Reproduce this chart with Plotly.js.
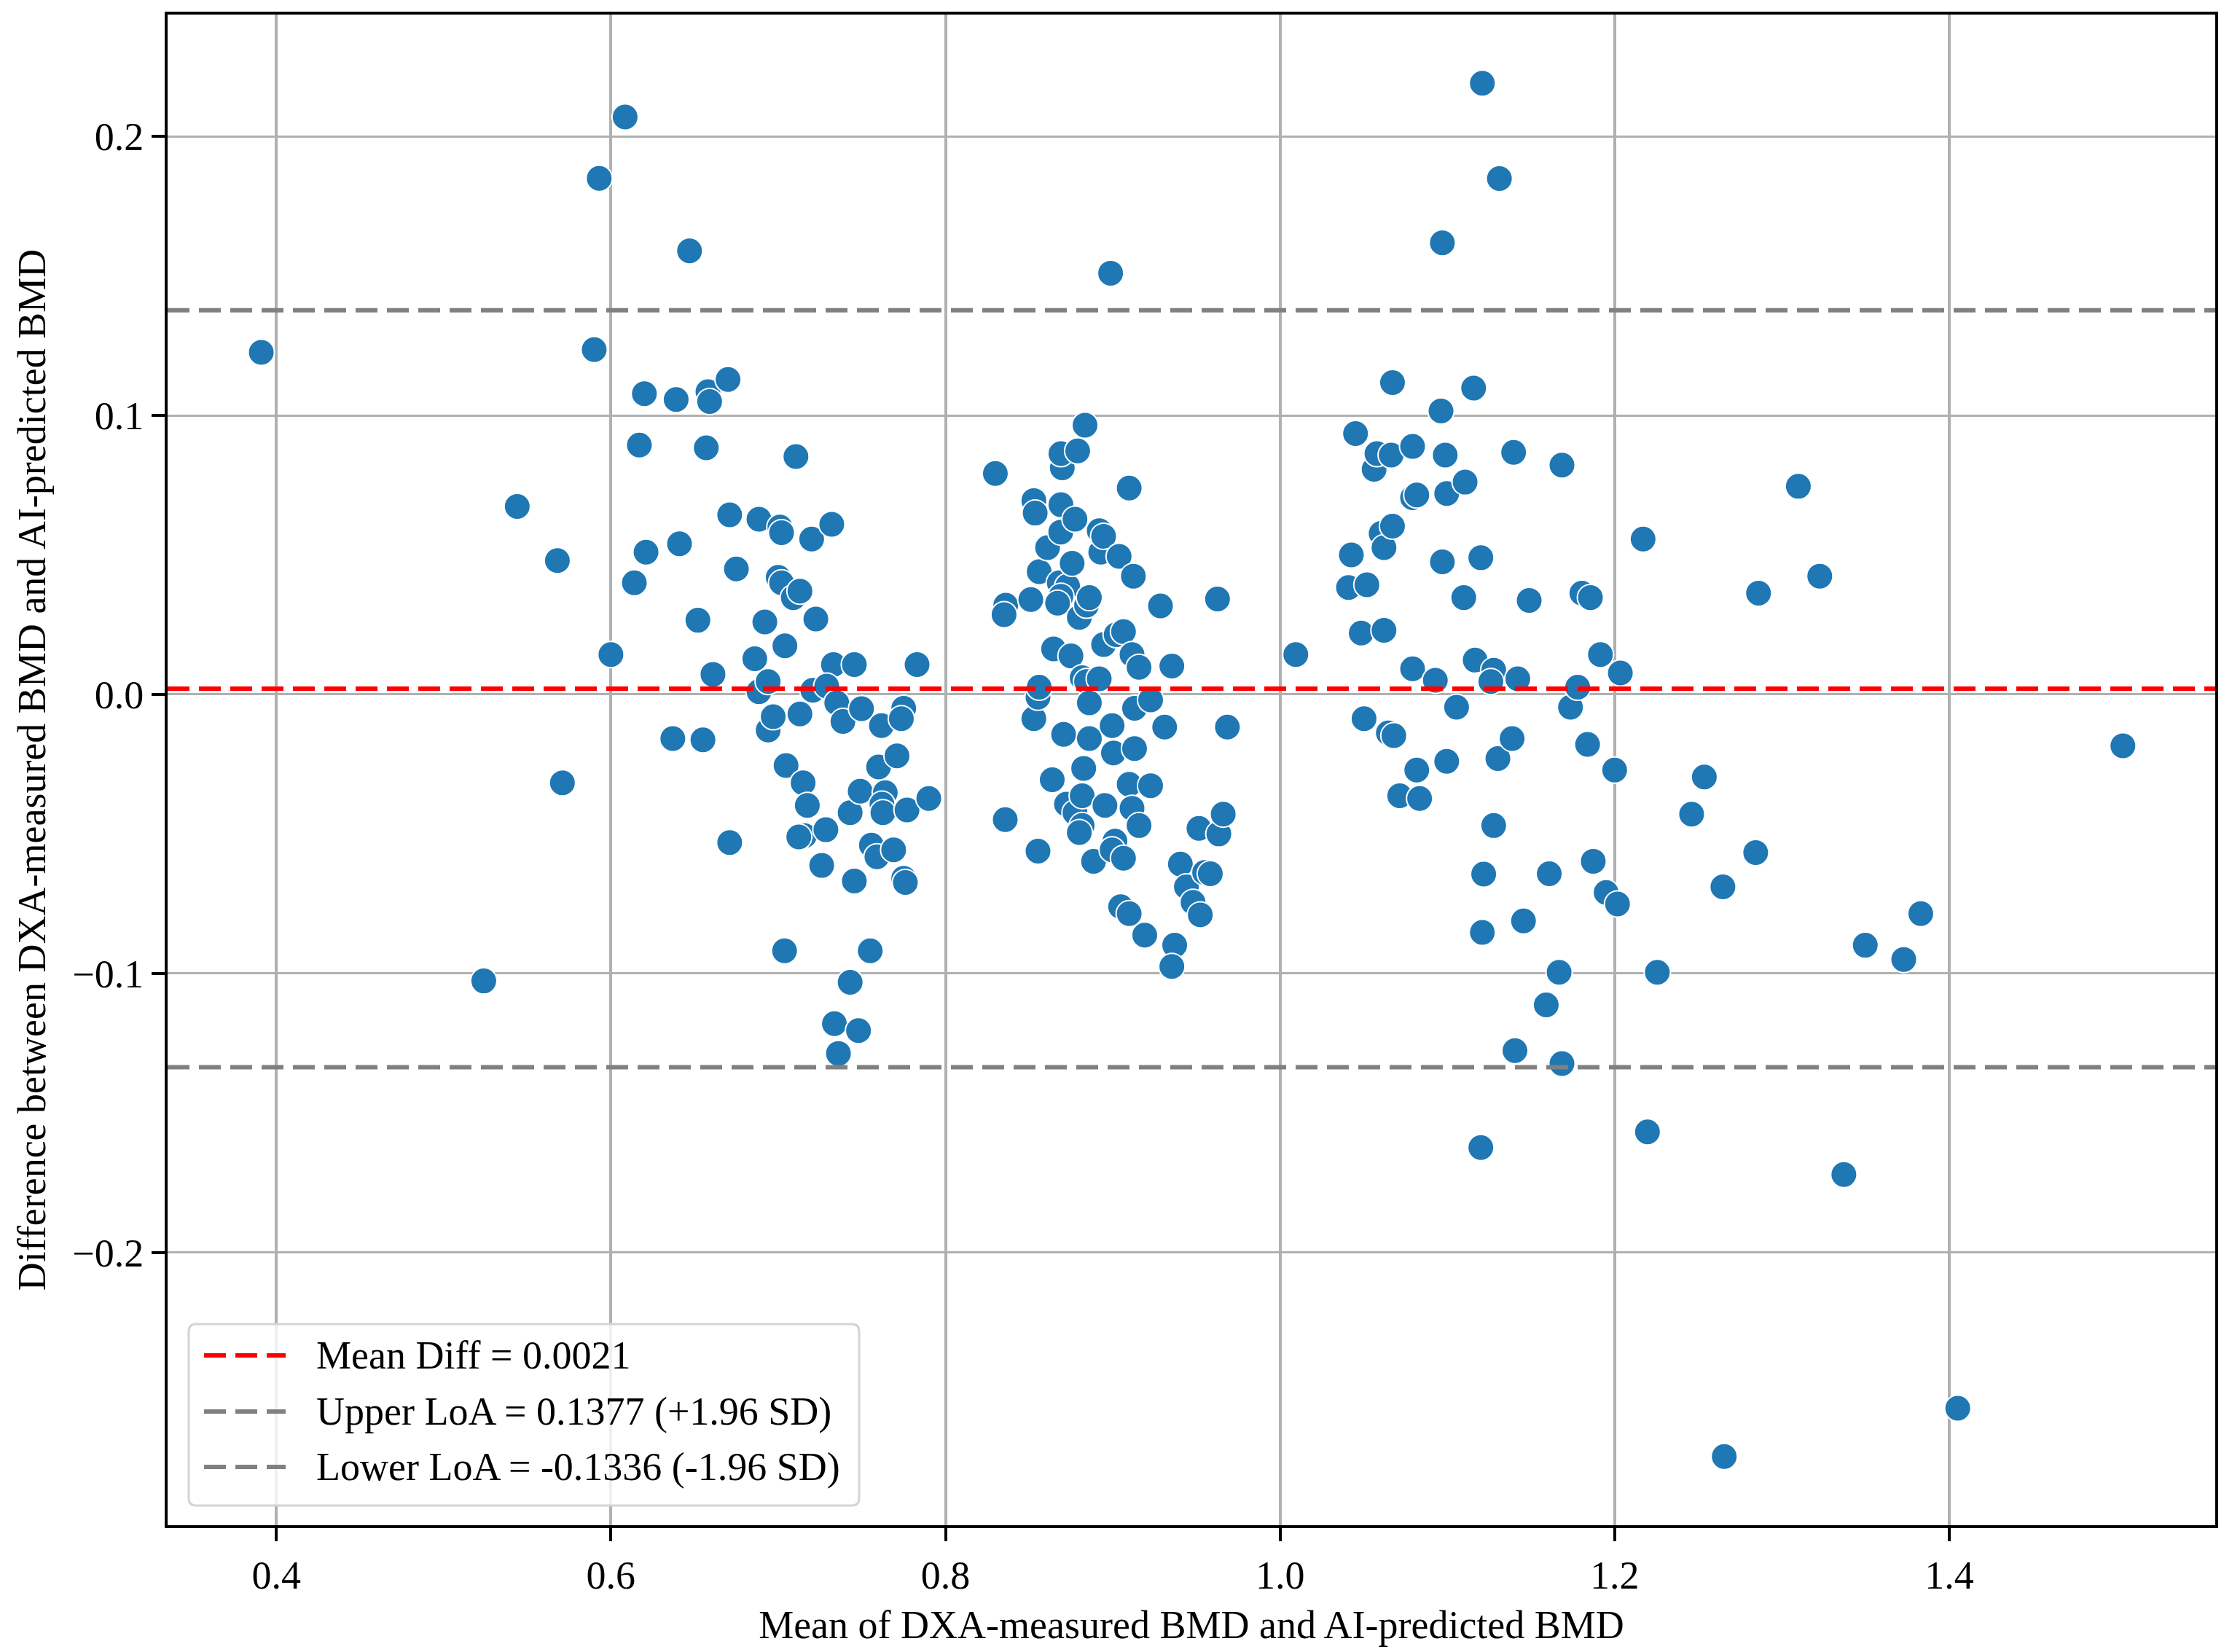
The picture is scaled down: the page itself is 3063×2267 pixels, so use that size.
<!DOCTYPE html>
<html>
<head>
<meta charset="utf-8">
<script src="https://cdn.plot.ly/plotly-3.0.1.min.js"></script>
<style>
  html, body { margin: 0; padding: 0; background: #fff; }
  #plotDiv { width: 3063px; height: 2267px; }
</style>
</head>
<body>
<div id="plotDiv"></div>
<script>
/* =========================
   Bland-Altman data
========================= */

const meanBmd = [
    0.391, 0.544, 0.568, 0.571, 0.524, 0.590, 0.593, 0.6085, 0.600, 0.647,
    0.620, 0.617, 0.639, 0.658, 0.659, 0.670, 0.657, 0.621, 0.614, 0.641,
    0.652, 0.661, 0.637, 0.655, 0.671, 0.671, 0.675, 0.6885, 0.7106, 0.701,
    0.702, 0.692, 0.686, 0.700, 0.702, 0.709, 0.713, 0.720, 0.732, 0.7225,
    0.704, 0.6885, 0.694, 0.694, 0.697, 0.713, 0.7207, 0.733, 0.729, 0.735,
    0.7387, 0.7455, 0.7498, 0.7617, 0.7047, 0.7149, 0.7174, 0.7157, 0.7123, 0.7285,
    0.726, 0.743, 0.749, 0.760, 0.764, 0.762, 0.7626, 0.771, 0.775, 0.7736,
    0.777, 0.790, 0.783, 0.7557, 0.759, 0.769, 0.775, 0.776, 0.7455, 0.7038,
    0.755, 0.743, 0.7336, 0.748, 0.736, 0.8298, 0.8357, 0.836, 0.835, 0.8553,
    0.8528, 0.8536, 0.851, 0.856, 0.861, 0.8528, 0.8553, 0.856, 0.8638, 0.8646,
    0.868, 0.8689, 0.869, 0.8698, 0.869, 0.879, 0.8834, 0.873, 0.869, 0.867,
    0.8706, 0.875, 0.8774, 0.8757, 0.880, 0.8843, 0.886, 0.8817, 0.8843, 0.886,
    0.8723, 0.8774, 0.8817, 0.8826, 0.8817, 0.880, 0.886, 0.8885, 0.8919, 0.8928,
    0.8945, 0.8945, 0.8919, 0.8953, 0.8987, 0.8996, 0.9004, 0.9038, 0.902, 0.9064,
    0.9013, 0.8996, 0.9064, 0.9098, 0.9123, 0.9115, 0.9157, 0.913, 0.913, 0.9098,
    0.9115, 0.9157, 0.9047, 0.9098, 0.9191, 0.9226, 0.9226, 0.9285, 0.931, 0.9353,
    0.937, 0.9353, 0.9404, 0.944, 0.948, 0.9515, 0.9523, 0.9549, 0.9583, 0.9626,
    0.9634, 0.966, 0.9685, 1.0094, 1.0451, 1.0426, 1.0409, 1.0519, 1.0485, 1.0502,
    1.0562, 1.0579, 1.0664, 1.0604, 1.0621, 1.0672, 1.0672, 1.0792, 1.0621, 1.0647,
    1.068, 1.0715, 1.0792, 1.0817, 1.0792, 1.0817, 1.0834, 1.0962, 1.097, 1.097,
    1.0996, 1.0987, 1.0928, 1.0996, 1.1055, 1.1106, 1.1098, 1.1157, 1.1166, 1.120,
    1.1209, 1.1217, 1.1209, 1.120, 1.1277, 1.126, 1.1302, 1.1277, 1.1311, 1.1396,
    1.1387, 1.1421, 1.1489, 1.1455, 1.1404, 1.1609, 1.1591, 1.1668, 1.1685, 1.1736,
    1.1779, 1.1685, 1.1804, 1.1855, 1.1838, 1.1872, 1.1915, 1.1949, 1.200, 1.2017,
    1.2034, 1.217, 1.2196, 1.2255, 1.246, 1.2536, 1.2647, 1.2655, 1.2843, 1.286,
    1.3098, 1.3226, 1.337, 1.3498, 1.3728, 1.383, 1.4051, 1.5038
];

const diffBmd = [
    0.1226, 0.0674, 0.048, -0.0317, -0.1027, 0.1236, 0.185, 0.207, 0.0143, 0.159,
    0.1078, 0.0894, 0.1057, 0.1085, 0.1050, 0.1129, 0.0884, 0.051, 0.040, 0.054,
    0.0266, 0.0072, -0.0158, -0.0163, -0.0531, 0.0644, 0.045, 0.0628, 0.0853, 0.060,
    0.058, 0.026, 0.0128, 0.042, 0.040, 0.0347, 0.037, 0.0557, 0.061, 0.027,
    0.0174, 0.001, 0.0046, -0.0128, -0.008, -0.007, 0.0015, 0.0107, 0.003, -0.003,
    -0.0097, 0.0107, -0.0051, -0.0112, -0.0255, -0.0317, -0.0398, -0.0506, -0.0511, -0.0485,
    -0.0613, -0.0424, -0.0347, -0.026, -0.0352, -0.0393, -0.0424, -0.022, -0.005, -0.0087,
    -0.0414, -0.0373, 0.0107, -0.054, -0.0582, -0.0557, -0.0659, -0.0674, -0.0669, -0.0919,
    -0.0919, -0.1032, -0.118, -0.1205, -0.1287, 0.0792, -0.0449, 0.032, 0.0286, -0.0562,
    0.0695, 0.065, 0.034, 0.044, 0.0526, -0.0087, -0.001, 0.0026, -0.0306, 0.0163,
    0.040, 0.0582, 0.068, 0.0812, 0.0863, 0.0873, 0.0965, 0.0388, 0.0352, 0.0327,
    -0.0143, 0.0138, 0.0628, 0.047, 0.0276, 0.032, 0.0347, 0.006, 0.0046, -0.003,
    -0.0393, -0.0424, -0.0363, -0.0265, -0.047, -0.0495, -0.0158, -0.0598, 0.0587, 0.051,
    0.0567, 0.0179, 0.0056, -0.0398, 0.151, -0.0112, -0.021, 0.0495, 0.0214, 0.0225,
    -0.0526, -0.0557, -0.0587, 0.074, 0.0424, 0.0143, 0.0097, -0.005, -0.0194, -0.0322,
    -0.0408, -0.047, -0.0761, -0.0786, -0.0863, -0.002, -0.0327, 0.0317, -0.0117, 0.0102,
    -0.0899, -0.0975, -0.0608, -0.069, -0.0745, -0.048, -0.079, -0.0638, -0.0643, 0.0342,
    -0.050, -0.0429, -0.0117, 0.0143, 0.0935, 0.050, 0.0383, 0.0393, 0.022, -0.0087,
    0.0807, 0.0863, 0.0858, 0.0577, 0.0526, 0.0603, 0.1118, 0.0889, 0.023, -0.0138,
    -0.0148, -0.0363, 0.0705, 0.0715, 0.0092, -0.0271, -0.0373, 0.1016, 0.1619, 0.0475,
    0.072, 0.0858, 0.0051, -0.024, -0.0046, 0.0761, 0.0347, 0.1098, 0.0123, 0.049,
    0.2191, -0.0644, -0.0853, -0.1624, 0.0087, 0.0046, -0.023, -0.047, 0.1849, 0.0868,
    -0.0158, 0.0056, 0.0337, -0.0812, -0.1277, -0.0643, -0.1113, -0.0996, 0.0822, -0.0046,
    0.0026, -0.1323, 0.0363, 0.0347, -0.0179, -0.0598, 0.0143, -0.071, -0.0271, -0.0751,
    0.0077, 0.0557, -0.1568, -0.0996, -0.0429, -0.0296, -0.069, -0.2732, -0.0567, 0.0363,
    0.0746, 0.0424, -0.1721, -0.0899, -0.095, -0.0786, -0.2559, -0.0184
];

const MEAN_DIFF = 0.0021;
const UPPER_LOA = 0.1377;
const LOWER_LOA = -0.1336;

const limitNames = ['Mean Diff = 0.0021', 'Upper LoA = 0.1377 (+1.96 SD)', 'Lower LoA = -0.1336 (-1.96 SD)'];
const limitValues = [MEAN_DIFF, UPPER_LOA, LOWER_LOA];
const limitColors = ['#ff0000', '#808080', '#808080'];

const xTicks = [0.4, 0.6, 0.8, 1.0, 1.2, 1.4];
const yTicks = [-0.2, -0.1, 0.0, 0.1, 0.2];

/* =========================
   Plot
========================= */

const FONT = 'Liberation Serif, Times New Roman, serif';
const W = 3063, H = 2267;
const M = { l: 230, r: 23, t: 20, b: 174 };
const DASH = '30px,13px';

// pixel -> paper coords (legend is drawn by hand to get matplotlib-like samples)
const px = x => (x - M.l) / (W - M.l - M.r);
const py = y => (H - M.b - y) / (H - M.t - M.b);

function roundedBox(x0, y0, x1, y1, r) {
    const a = px(x0), b = px(x1), c = py(y1), d = py(y0);
    const rx = r / (W - M.l - M.r), ry = r / (H - M.t - M.b);
    return `M${a + rx},${c} L${b - rx},${c} Q${b},${c} ${b},${c + ry} ` +
           `L${b},${d - ry} Q${b},${d} ${b - rx},${d} L${a + rx},${d} ` +
           `Q${a},${d} ${a},${d - ry} L${a},${c + ry} Q${a},${c} ${a + rx},${c} Z`;
}

const scatter = {
    type: 'scatter',
    mode: 'markers',
    x: meanBmd,
    y: diffBmd,
    showlegend: false,
    hoverinfo: 'skip',
    marker: { size: 36, color: '#1f77b4', line: { color: '#ffffff', width: 2 } }
};

const limitShapes = limitValues.map((value, i) => ({
    type: 'line',
    xref: 'paper', yref: 'y',
    x0: 0, x1: 1,
    y0: value, y1: value,
    layer: 'above',
    line: { color: limitColors[i], width: 6, dash: DASH }
}));

const LEGEND_ROWS = [1860, 1937, 2013];

const legendShapes = [
    {
        type: 'path', xref: 'paper', yref: 'paper', layer: 'above',
        path: roundedBox(259, 1817, 1179, 2066, 10),
        fillcolor: 'rgba(255,255,255,0.8)',
        line: { color: '#d4d4d4', width: 3 }
    },
    ...limitColors.map((color, i) => ({
        type: 'line', xref: 'paper', yref: 'paper', layer: 'above',
        x0: px(280), x1: px(392), y0: py(LEGEND_ROWS[i]), y1: py(LEGEND_ROWS[i]),
        line: { color, width: 6, dash: DASH }
    }))
];

const legendText = limitNames.map((name, i) => ({
    xref: 'paper', yref: 'paper',
    x: px(432), y: py(LEGEND_ROWS[i]),
    xanchor: 'left', yanchor: 'middle',
    text: name, showarrow: false,
    font: { family: FONT, size: 54, color: '#000000' }
}));

const axisCommon = {
    showline: true,
    mirror: true,
    linecolor: '#000000',
    linewidth: 4,
    ticks: 'outside',
    ticklen: 18,
    tickwidth: 4,
    tickcolor: '#000000',
    showgrid: true,
    gridcolor: '#b0b0b0',
    zeroline: false,
    tickfont: { family: FONT, size: 54, color: '#000000' },
    tickformat: '.1f',
    automargin: false
};

const layout = {
    width: W,
    height: H,
    margin: M,
    paper_bgcolor: '#ffffff',
    plot_bgcolor: '#ffffff',
    font: { family: FONT, size: 54, color: '#000000' },
    xaxis: {
        ...axisCommon,
        gridwidth: 4,
        range: [0.335, 1.559],
        tickvals: xTicks,
        title: { text: 'Mean of DXA-measured BMD and AI-predicted BMD', font: { family: FONT, size: 54 }, standoff: 20 }
    },
    yaxis: {
        ...axisCommon,
        gridwidth: 3,
        range: [-0.2978, 0.2437],
        tickvals: yTicks,
        title: { text: 'Difference between DXA-measured BMD and AI-predicted BMD', font: { family: FONT, size: 54 }, standoff: 20 }
    },
    shapes: [...limitShapes, ...legendShapes],
    annotations: legendText,
    showlegend: false,
    hovermode: false
};

Plotly.newPlot('plotDiv', [scatter], layout, { displayModeBar: false, staticPlot: true });
</script>
</body>
</html>
